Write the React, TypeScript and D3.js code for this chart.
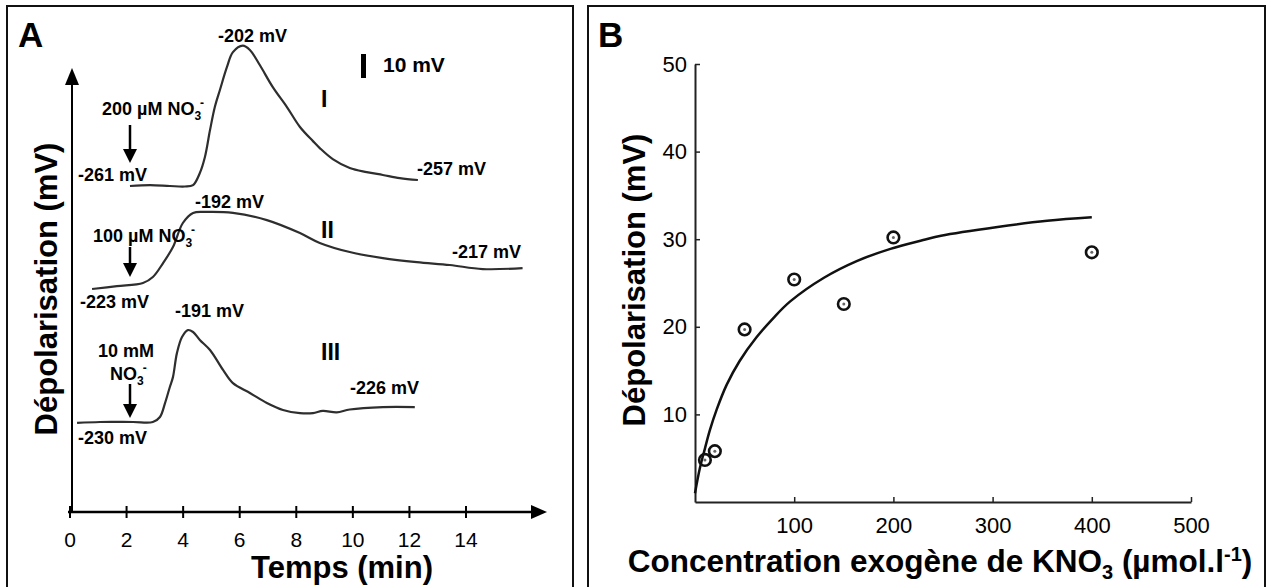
import { useRef, useEffect } from 'react';
import * as d3 from 'd3';

var FONT = '"Liberation Sans", Arial, Helvetica, sans-serif';

// Panel A: membrane potential traces (time in min, potential in mV)
var TIME_TICKS = [0, 2, 4, 6, 8, 10, 12, 14];

var T1_TIME = [2.12, 2.83, 3.53, 4.06, 4.35, 4.59, 4.77, 4.95, 5.12, 5.30, 5.55, 5.76, 6.11, 6.36, 6.71, 7.17, 7.67, 8.13, 8.59, 8.83, 9.29, 9.89, 10.49, 11.06, 11.66, 12.30];
var T1_MV = [-261, -260.6, -261, -261.2, -260.6, -255.6, -248.9, -237.7, -228.1, -221, -211.4, -205.2, -202.5, -204.3, -210.6, -219.8, -228.1, -236.4, -242.3, -245.2, -249.8, -253.5, -255.2, -256.4, -257.7, -258.5];

var T2_TIME = [0.78, 1.66, 2.58, 2.93, 3.29, 3.64, 3.99, 4.35, 4.84, 5.76, 6.96, 8.13, 8.83, 9.89, 11.06, 12.26, 13.43, 14.59, 16.0];
var T2_MV = [-223, -221.8, -220.5, -218, -212.2, -205.5, -195.5, -191.3, -190.9, -191.3, -194.3, -199.7, -203.8, -207.6, -210.1, -211.8, -213, -214.7, -214.3];

var T3_TIME = [0.25, 1.06, 2.23, 2.93, 3.18, 3.36, 3.53, 3.64, 3.78, 3.96, 4.17, 4.35, 4.59, 4.95, 5.41, 5.76, 6.36, 6.96, 7.53, 8.13, 8.59, 8.94, 9.43, 9.89, 11.06, 12.19];
var T3_MV = [-230.4, -230, -230, -230, -227.9, -222.1, -215.4, -211.3, -201.3, -194.6, -191.7, -192.5, -195.8, -200, -208.3, -213.8, -217.9, -222.1, -225, -226.3, -226.3, -225.4, -226, -224.8, -223.8, -223.8];

var REST_MV = [-261, -223, -230];

// Panel B: depolarisation vs KNO3 concentration
var CONC_TICKS = [100, 200, 300, 400, 500];
var DEPOL_TICKS = [10, 20, 30, 40, 50];
var CONC = [10, 20, 50, 100, 150, 200, 400];
var DEPOL = [4.8, 5.8, 19.7, 25.4, 22.6, 30.2, 28.5];
var FIT_CONC = [0, 5, 10, 15, 22, 32, 45, 62, 79, 96, 130, 163, 197, 230, 248, 305, 355, 400];
var FIT_DEPOL = [1.0, 3.9, 6.1, 8.2, 10.6, 13.4, 16.1, 18.8, 21.0, 22.9, 25.6, 27.5, 28.9, 29.9, 30.4, 31.4, 32.1, 32.5];

function label(svg, x, y, txt, size) {
  return svg.append('text')
    .attr('x', x)
    .attr('y', y)
    .attr('font-family', FONT)
    .attr('font-weight', 'bold')
    .attr('font-size', size + 'px')
    .attr('fill', '#000')
    .text(txt);
}

function nitrate(svg, x, y, prefix) {
  var t = svg.append('text')
    .attr('x', x)
    .attr('y', y)
    .attr('font-family', FONT)
    .attr('font-weight', 'bold')
    .attr('font-size', '18px')
    .attr('fill', '#000');
  t.append('tspan').text(prefix + 'NO');
  t.append('tspan').attr('font-size', '12px').attr('dy', 5).text('3');
  t.append('tspan').attr('font-size', '12px').attr('dx', -1).attr('dy', -13).text('-');
  return t;
}

function downArrow(svg, x, y0, y1) {
  svg.append('line')
    .attr('x1', x).attr('x2', x)
    .attr('y1', y0).attr('y2', y1 - 12)
    .attr('stroke', '#000').attr('stroke-width', 2.5);
  svg.append('path')
    .attr('d', 'M' + (x - 7) + ',' + (y1 - 14) + 'L' + (x + 7) + ',' + (y1 - 14) + 'L' + x + ',' + y1 + 'Z')
    .attr('fill', '#000');
}

export default function App() {
  var svgRef = useRef(null);

  useEffect(function () {
    var svg = d3.select(svgRef.current);
    svg.selectAll('*').remove();

    // Panel frames
    svg.append('rect').attr('x', 7).attr('y', 6).attr('width', 566).attr('height', 590)
      .attr('fill', 'none').attr('stroke', '#111').attr('stroke-width', 2);
    svg.append('rect').attr('x', 588).attr('y', 6).attr('width', 677).attr('height', 590)
      .attr('fill', 'none').attr('stroke', '#111').attr('stroke-width', 2);

    label(svg, 18, 47, 'A', 35);
    label(svg, 598, 47, 'B', 35);

    // ---------- Panel A ----------
    var xA = d3.scaleLinear().domain([0, 14]).range([70, 466]);
    var mv = d3.scaleLinear().domain([0, 10]).range([0, 24]);
    var axisY = 512;

    // y axis with arrow
    svg.append('line').attr('x1', 72).attr('x2', 72).attr('y1', axisY).attr('y2', 82)
      .attr('stroke', '#000').attr('stroke-width', 2);
    svg.append('path').attr('d', 'M72,68L65,85L79,85Z').attr('fill', '#000');

    // x axis with arrow
    svg.append('line').attr('x1', xA(0) - 2).attr('x2', 533).attr('y1', axisY).attr('y2', axisY)
      .attr('stroke', '#000').attr('stroke-width', 2.5);
    svg.append('path').attr('d', 'M547,' + axisY + 'L531,' + (axisY - 7) + 'L531,' + (axisY + 7) + 'Z').attr('fill', '#000');

    TIME_TICKS.forEach(function (t) {
      svg.append('line').attr('x1', xA(t)).attr('x2', xA(t)).attr('y1', axisY - 6).attr('y2', axisY + 6)
        .attr('stroke', '#000').attr('stroke-width', 2);
      svg.append('text').attr('x', xA(t)).attr('y', 547)
        .attr('text-anchor', 'middle').attr('font-family', FONT).attr('font-size', '21px')
        .text(t);
    });

    svg.append('text').attr('x', 342).attr('y', 578).attr('text-anchor', 'middle')
      .attr('font-family', FONT).attr('font-weight', 'bold').attr('font-size', '31px')
      .text('Temps (min)');

    svg.append('text').attr('transform', 'translate(57,289) rotate(-90)').attr('text-anchor', 'middle')
      .attr('font-family', FONT).attr('font-weight', 'bold').attr('font-size', '31px')
      .text('Dépolarisation (mV)');

    // traces
    var traces = [
      { t: T1_TIME, v: T1_MV, rest: REST_MV[0], baseY: 186 },
      { t: T2_TIME, v: T2_MV, rest: REST_MV[1], baseY: 289 },
      { t: T3_TIME, v: T3_MV, rest: REST_MV[2], baseY: 422 }
    ];
    traces.forEach(function (tr) {
      var pts = tr.t.map(function (t, i) { return [t, tr.v[i]]; });
      var line = d3.line()
        .x(function (d) { return xA(d[0]); })
        .y(function (d) { return tr.baseY - mv(d[1] - tr.rest); })
        .curve(d3.curveCatmullRom.alpha(0.5));
      svg.append('path').attr('d', line(pts))
        .attr('fill', 'none').attr('stroke', '#2e2e2e').attr('stroke-width', 2.2);
    });

    // 10 mV scale bar
    svg.append('line').attr('x1', 363.5).attr('x2', 363.5).attr('y1', 54).attr('y2', 54 + mv(10))
      .attr('stroke', '#000').attr('stroke-width', 5);
    label(svg, 383, 72, '10 mV', 21);

    // roman numerals
    label(svg, 321, 107, 'I', 23);
    label(svg, 321, 238, 'II', 23);
    label(svg, 321, 360, 'III', 23);

    // annotations trace I
    label(svg, 218, 42, '-202 mV', 18);
    nitrate(svg, 102, 115, '200 µM ');
    downArrow(svg, 130, 125, 163);
    label(svg, 78, 181, '-261 mV', 18);
    label(svg, 417, 175, '-257 mV', 18);

    // annotations trace II
    label(svg, 195, 208, '-192 mV', 18);
    nitrate(svg, 93, 242, '100 µM ');
    downArrow(svg, 130, 247, 277);
    label(svg, 80, 308, '-223 mV', 18);
    label(svg, 452, 258, '-217 mV', 18);

    // annotations trace III
    label(svg, 175, 317, '-191 mV', 18);
    label(svg, 98, 357, '10 mM', 18);
    nitrate(svg, 110, 380, '');
    downArrow(svg, 130, 384, 418);
    label(svg, 78, 444, '-230 mV', 18);
    label(svg, 350, 394, '-226 mV', 18);

    // ---------- Panel B ----------
    var xB = d3.scaleLinear().domain([0, 500]).range([695, 1191]);
    var yB = d3.scaleLinear().domain([0, 50]).range([502, 64]);

    var gx = svg.append('g').attr('transform', 'translate(0,' + yB(0) + ')')
      .call(d3.axisBottom(xB).tickValues(CONC_TICKS).tickSize(-5).tickSizeOuter(0).tickPadding(15));
    var gy = svg.append('g').attr('transform', 'translate(' + xB(0) + ',0)')
      .call(d3.axisLeft(yB).tickValues(DEPOL_TICKS).tickSize(-5).tickSizeOuter(0).tickPadding(8));
    [gx, gy].forEach(function (g) {
      g.select('.domain').attr('stroke', '#222').attr('stroke-width', 2);
      g.selectAll('.tick line').attr('stroke', '#222').attr('stroke-width', 1.5);
      g.selectAll('.tick text').attr('font-family', FONT).attr('font-size', '22px').attr('fill', '#000');
    });

    // fitted curve
    var fit = FIT_CONC.map(function (c, i) { return [c, FIT_DEPOL[i]]; });
    var fitLine = d3.line()
      .x(function (d) { return xB(d[0]); })
      .y(function (d) { return yB(d[1]); })
      .curve(d3.curveCatmullRom.alpha(0.5));
    svg.append('path').attr('d', fitLine(fit))
      .attr('fill', 'none').attr('stroke', '#111').attr('stroke-width', 2.5);

    // measured points
    CONC.forEach(function (c, i) {
      svg.append('circle').attr('cx', xB(c)).attr('cy', yB(DEPOL[i])).attr('r', 5.8)
        .attr('fill', 'none').attr('stroke', '#111').attr('stroke-width', 2.6);
      svg.append('circle').attr('cx', xB(c)).attr('cy', yB(DEPOL[i])).attr('r', 1.5)
        .attr('fill', '#666');
    });

    svg.append('text').attr('transform', 'translate(645,280) rotate(-90)').attr('text-anchor', 'middle')
      .attr('font-family', FONT).attr('font-weight', 'bold').attr('font-size', '31px')
      .text('Dépolarisation (mV)');

    var xl = svg.append('text').attr('x', 940).attr('y', 572).attr('text-anchor', 'middle')
      .attr('font-family', FONT).attr('font-weight', 'bold').attr('font-size', '31.5px');
    xl.append('tspan').text('Concentration exogène de KNO');
    xl.append('tspan').attr('font-size', '20px').attr('dy', 7).text('3');
    xl.append('tspan').attr('dy', -7).text(' (µmol.l');
    xl.append('tspan').attr('font-size', '20px').attr('dy', -11).text('-1');
    xl.append('tspan').attr('dy', 11).text(')');
  }, []);

  return (
    <svg
      ref={svgRef}
      width={1269}
      height={587}
      style={{ position: 'absolute', left: 0, top: 0, background: '#fff' }}
    />
  );
}
